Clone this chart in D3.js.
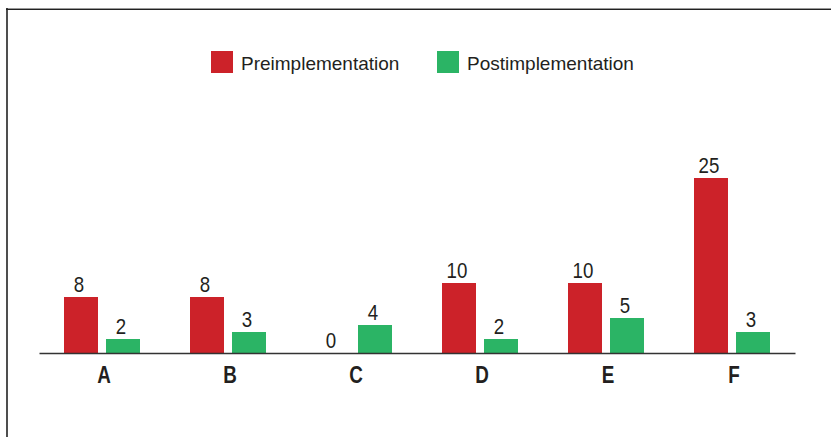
<!DOCTYPE html>
<html>
<head>
<meta charset="utf-8">
<script src="https://cdn.jsdelivr.net/npm/d3@7"></script>
<style>
  html, body { margin: 0; padding: 0; background: #fff; }
  svg { display: block; }
</style>
</head>
<body>
<svg id="chart" width="831" height="437"></svg>
<script>
const categories = ["A", "B", "C", "D", "E", "F"];
const seriesNames = ["Preimplementation", "Postimplementation"];
const preValues = [8, 8, 0, 10, 10, 25];
const postValues = [2, 3, 4, 2, 5, 3];
const colors = ["#cc2229", "#2bb465"];

const data = categories.map((c, i) => ({ cat: c, values: [preValues[i], postValues[i]] }));

const svg = d3.select("#chart");
const textColor = "#231f20";
const font = "'Liberation Sans', Arial, sans-serif";

// frame
svg.append("line").attr("x1", 6).attr("x2", 831).attr("y1", 8.5).attr("y2", 8.5)
  .attr("stroke", "#999").attr("stroke-width", 1);
svg.append("line").attr("x1", 6).attr("x2", 831).attr("y1", 9.5).attr("y2", 9.5)
  .attr("stroke", "#222").attr("stroke-width", 1.2);
svg.append("line").attr("x1", 7).attr("x2", 7).attr("y1", 8).attr("y2", 437)
  .attr("stroke", "#222").attr("stroke-width", 1.6);

const x0 = d3.scaleBand().domain(categories).range([39, 795])
  .paddingInner(50 / 126).paddingOuter(25 / 126);
const x1 = d3.scaleBand().domain([0, 1]).range([0, x0.bandwidth()]).paddingInner(8 / 42);
const y = d3.scaleLinear().domain([0, 25]).range([353, 178]);

const groups = svg.append("g").selectAll("g").data(data).join("g")
  .attr("transform", d => `translate(${x0(d.cat)},0)`);

groups.selectAll("rect").data(d => d.values.map((v, i) => ({ v, i }))).join("rect")
  .attr("x", d => x1(d.i))
  .attr("width", x1.bandwidth())
  .attr("y", d => y(d.v))
  .attr("height", d => y(0) - y(d.v))
  .attr("fill", d => colors[d.i]);

groups.selectAll("text").data(d => d.values.map((v, i) => ({ v, i }))).join("text")
  .attr("transform", d => `translate(${x1(d.i) + x1.bandwidth() / 2 - 2},${y(d.v) - 5}) scale(0.85,1)`)
  .attr("text-anchor", "middle")
  .attr("font-family", font)
  .attr("font-size", 22)
  .attr("fill", textColor)
  .text(d => d.v);

// axis
const axis = svg.append("g").attr("transform", `translate(0,${y(0)})`)
  .call(d3.axisBottom(x0).tickSize(0).tickPadding(14));
axis.select(".domain").attr("stroke", "#333").attr("stroke-width", 1.3);
axis.selectAll(".tick text")
  .attr("transform", "translate(2,0) scale(0.82,1)")
  .attr("font-family", font)
  .attr("font-weight", "bold")
  .attr("font-size", 23)
  .attr("fill", textColor);

// legend
const legendX = [211, 437];
const legend = svg.append("g").selectAll("g").data(seriesNames).join("g")
  .attr("transform", (d, i) => `translate(${legendX[i]},51)`);
legend.append("rect").attr("width", 22).attr("height", 22).attr("fill", (d, i) => colors[i]);
legend.append("text")
  .attr("x", 30).attr("y", 19)
  .attr("font-family", font)
  .attr("font-size", 19)
  .attr("fill", textColor)
  .text(d => d);
</script>
</body>
</html>
